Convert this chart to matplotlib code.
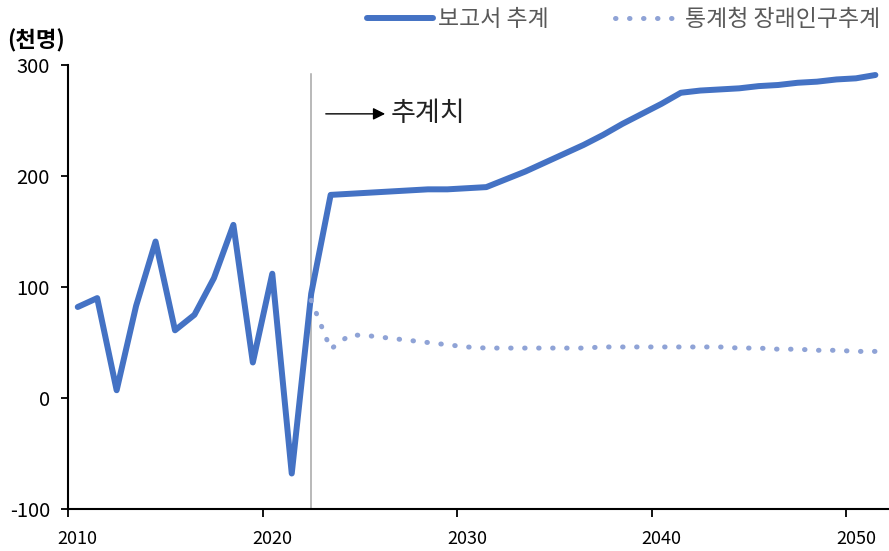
import matplotlib.pyplot as plt
import numpy as np

plt.rcParams['font.family'] = ['Noto Sans CJK KR', 'DejaVu Sans']
plt.rcParams['axes.unicode_minus'] = False

# 보고서 추계 (천명)
years_report = list(range(2010, 2052))
report = [82, 90, 7, 83, 141, 61, 75, 108, 156, 32, 112, -68, 94, 183,
          184, 185, 186, 187, 188, 188, 189, 190, 197, 204, 212, 220, 228,
          237, 247, 256, 265, 275, 277, 278, 279, 281, 282, 284, 285, 287,
          288, 291]

# 통계청 장래인구추계 (천명)
years_stat = list(range(2022, 2052))
stat = [88, 44, 57, 56, 54, 52, 50, 48, 46, 45, 45, 45, 45, 45, 45, 46,
        46, 46, 46, 46, 46, 46, 45, 45, 44, 44, 43, 43, 42, 42]

split_year = 2022
label_years = [2010, 2020, 2030, 2040, 2050]

fig = plt.figure(figsize=(8.89, 5.51), dpi=100)
ax = fig.add_axes([0.0765, 0.0762, 0.9235, 0.8058])

# points sit in the middle of each year's slot
xr = np.array(years_report) + 0.5
xs = np.array(years_stat) + 0.5

ax.plot(xr, report, color='#4472C4', lw=4.3, solid_capstyle='round',
        solid_joinstyle='round', label='보고서 추계', zorder=3)
ax.plot(xs, stat, color='#8FA3D6', lw=3.6, ls=(0, (0.1, 2.7)),
        dash_capstyle='round', label='통계청 장래인구추계', zorder=4)

ax.axvline(split_year + 0.5, ymin=0, ymax=0.98, color='#A6A6A6', lw=1.1, zorder=2)

ax.annotate('', xy=(2026.3, 256), xytext=(2023.25, 256),
            arrowprops=dict(arrowstyle='-|>', color='black', lw=1.0,
                            mutation_scale=18, shrinkA=0, shrinkB=0))
ax.text(2026.6, 256, '추계치', fontsize=19.5, va='center', ha='left', color='#222222')

ax.set_xlim(2010, 2052.2)
ax.set_ylim(-100, 300)
ax.set_yticks([-100, 0, 100, 200, 300])
ax.set_xticks(label_years)
ax.set_xticklabels([])
ax.set_xticks([y + 0.5 for y in label_years], minor=True)
ax.set_xticklabels([str(y) for y in label_years], minor=True)
ax.tick_params(axis='x', which='major', direction='out', length=6, width=1.3)
ax.tick_params(axis='x', which='minor', length=0, pad=15, labelsize=13)
ax.tick_params(axis='y', direction='out', length=5, width=1.3, pad=8, labelsize=14.5)

for s in ['top', 'right']:
    ax.spines[s].set_visible(False)
for s in ['left', 'bottom']:
    ax.spines[s].set_linewidth(1.5)

fig.text(0.008, 0.927, '(천명)', fontsize=16, fontweight='bold', ha='left', va='center')

ax.legend(loc='upper right', bbox_to_anchor=(0.993, 0.989), bbox_transform=fig.transFigure,
          ncol=2, frameon=False, fontsize=16.5, handlelength=2.85, handletextpad=0.22,
          columnspacing=2.9, borderaxespad=0, borderpad=0.1, labelcolor='#595959')

fig.savefig('out.png', dpi=100)
